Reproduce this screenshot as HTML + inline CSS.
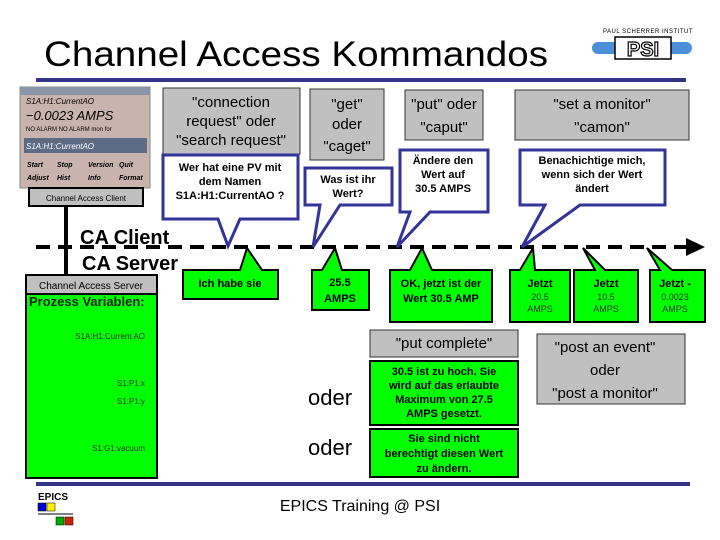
<!DOCTYPE html>
<html><head><meta charset="utf-8"><style>
body{margin:0;background:#fff}
svg{display:block}
text{font-family:"Liberation Sans",sans-serif}
</style></head><body>
<svg width="720" height="540" viewBox="0 0 720 540" xmlns="http://www.w3.org/2000/svg">
<text x="44" y="66" font-size="35" fill="#000" textLength="504" lengthAdjust="spacingAndGlyphs">Channel Access Kommandos</text>
<text x="648" y="33" font-size="6" text-anchor="middle" letter-spacing="0.5">PAUL SCHERRER INSTITUT</text>
<rect x="592" y="42" width="100" height="12" rx="6" fill="#4a8fd8"/>
<rect x="615" y="37" width="56" height="22" fill="#fff" stroke="#000" stroke-width="1.5"/>
<text x="643" y="56" font-size="20" font-weight="bold" text-anchor="middle" fill="#fff" stroke="#000" stroke-width="1.2">PSI</text>
<rect x="36" y="78" width="650" height="4" fill="#333388"/>

<!-- client window -->
<rect x="20" y="87" width="130" height="101" fill="#c8b4ac" stroke="#888"/>
<rect x="20" y="87" width="130" height="8" fill="#8a96a8"/>
<text x="26" y="104" font-size="8" font-style="italic" font-family="Liberation Serif">S1A:H1:CurrentAO</text>
<text x="26" y="120" font-size="13" font-style="italic">−0.0023 AMPS</text>
<text x="26" y="131" font-size="6">NO ALARM  NO ALARM  mon  for</text>
<rect x="24" y="138" width="123" height="15" fill="#5c6c84"/>
<text x="26" y="149" font-size="8" font-style="italic" fill="#fff" font-family="Liberation Serif">S1A:H1:CurrentAO</text>
<g font-size="7" font-style="italic" font-family="Liberation Serif" font-weight="bold">
<text x="27" y="167">Start</text><text x="57" y="167">Stop</text><text x="88" y="167">Version</text><text x="119" y="167">Quit</text>
<text x="27" y="180">Adjust</text><text x="57" y="180">Hist</text><text x="88" y="180">Info</text><text x="119" y="180">Format</text>
</g>
<rect x="29" y="188" width="114" height="18" fill="#c0c0c0" stroke="#000" stroke-width="2"/>
<text x="86" y="201" font-size="8" text-anchor="middle">Channel Access Client</text>
<rect x="64" y="206" width="4" height="70" fill="#000"/>

<!-- dashed line -->
<line x1="36" y1="247" x2="688" y2="247" stroke="#000" stroke-width="4" stroke-dasharray="14,8"/>
<polygon points="686,238 705,247 686,256" fill="#000"/>
<text x="80" y="244" font-size="20" font-weight="bold">CA Client</text>
<text x="82" y="270" font-size="20" font-weight="bold">CA Server</text>

<!-- gray boxes -->
<g fill="#c0c0c0" stroke="#333" stroke-width="1">
<rect x="163" y="88" width="137" height="66"/>
<rect x="310" y="89" width="74" height="71"/>
<rect x="405" y="90" width="78" height="50"/>
<rect x="515" y="90" width="174" height="50"/>
<rect x="370" y="330" width="148" height="27"/>
<rect x="537" y="334" width="148" height="70"/>
</g>
<g font-size="15" text-anchor="middle" fill="#000">
<text x="231" y="107">"connection</text><text x="231" y="126">request" oder</text><text x="231" y="145">"search request"</text>
<text x="347" y="109">"get"</text><text x="347" y="129">oder</text><text x="347" y="151">"caget"</text>
<text x="444" y="109">"put" oder</text><text x="444" y="132">"caput"</text>
<text x="602" y="109">"set a monitor"</text><text x="602" y="132">"camon"</text>
<text x="444" y="348">"put complete"</text>
<text x="605" y="352">"post an event"</text><text x="605" y="375">oder</text><text x="605" y="398">"post a monitor"</text>
</g>

<!-- callouts -->
<g fill="#fff" stroke="#333399" stroke-width="3" stroke-linejoin="miter">
<polygon points="163,155 298,155 298,219 240,219 228,246 218,219 163,219"/>
<polygon points="305,168 392,168 392,205 340,205 313,247 320,205 305,205"/>
<polygon points="400,150 488,150 488,212 430,212 397,247 410,212 400,212"/>
<polygon points="520,150 665,150 665,205 580,205 522,247 545,205 520,205"/>
</g>
<g font-size="11" font-weight="bold" text-anchor="middle">
<text x="230" y="171">Wer hat eine PV mit</text><text x="230" y="185">dem Namen</text><text x="230" y="199">S1A:H1:CurrentAO ?</text>
<text x="348" y="183">Was ist ihr</text><text x="348" y="197">Wert?</text>
<text x="443" y="164">Ändere den</text><text x="443" y="178">Wert auf</text><text x="443" y="192">30.5 AMPS</text>
<text x="592" y="164">Benachichtige mich,</text><text x="592" y="178">wenn sich der Wert</text><text x="592" y="192">ändert</text>
</g>

<!-- green responses -->
<g fill="#00ff00" stroke="#000" stroke-width="2">
<polygon points="183,270 240,270 247,248 262,270 278,270 278,299 183,299"/>
<polygon points="312,270 322,270 335,248 342,270 369,270 369,310 312,310"/>
<polygon points="390,270 410,270 422,248 432,270 492,270 492,322 390,322"/>
<polygon points="510,270 520,270 533,248 535,270 570,270 570,322 510,322"/>
<polygon points="574,270 595,270 583,248 605,270 638,270 638,322 574,322"/>
<polygon points="650,270 660,270 647,248 672,270 705,270 705,322 650,322"/>
<rect x="370" y="361" width="148" height="64"/>
<rect x="370" y="429" width="148" height="48"/>
<rect x="26" y="294" width="131" height="184"/>
</g>
<rect x="26" y="275" width="131" height="19" fill="#c0c0c0" stroke="#000" stroke-width="2"/>
<text x="91" y="289" font-size="10" text-anchor="middle">Channel Access Server</text>
<text x="29" y="306" font-size="13" font-weight="bold" fill="#222">Prozess Variablen:</text>
<g font-size="8" text-anchor="end" fill="#333">
<text x="145" y="339">S1A:H1:Current AO</text>
<text x="145" y="386">S1:P1:x</text>
<text x="145" y="404">S1:P1:y</text>
<text x="145" y="451">S1:G1:vacuum</text>
</g>
<g font-size="11" font-weight="bold" text-anchor="middle">
<text x="230" y="287">Ich habe sie</text>
<text x="340" y="286">25.5</text><text x="340" y="302">AMPS</text>
<text x="441" y="287">OK, jetzt ist der</text><text x="441" y="302">Wert 30.5 AMP</text>
<text x="540" y="287">Jetzt</text><text x="606" y="287">Jetzt</text><text x="675" y="287">Jetzt -</text>
<text x="444" y="375">30.5 ist zu hoch. Sie</text><text x="444" y="389">wird auf das erlaubte</text><text x="444" y="403">Maximum von 27.5</text><text x="444" y="417">AMPS gesetzt.</text>
<text x="444" y="442">Sie sind nicht</text><text x="444" y="457">berechtigt diesen Wert</text><text x="444" y="472">zu ändern.</text>
</g>
<g font-size="9" text-anchor="middle" fill="#333">
<text x="540" y="300">20.5</text><text x="540" y="312">AMPS</text>
<text x="606" y="300">10.5</text><text x="606" y="312">AMPS</text>
<text x="675" y="300">0.0023</text><text x="675" y="312">AMPS</text>
</g>
<text x="308" y="405" font-size="22">oder</text>
<text x="308" y="455" font-size="22">oder</text>

<!-- footer -->
<rect x="36" y="482" width="654" height="4" fill="#333388"/>
<text x="38" y="500" font-size="10" font-weight="bold">EPICS</text>
<rect x="38" y="503" width="8" height="8" fill="#0000cc" stroke="#000" stroke-width="0.5"/>
<rect x="47" y="503" width="8" height="8" fill="#ffee00" stroke="#000" stroke-width="0.5"/>
<line x1="38" y1="514" x2="73" y2="514" stroke="#000"/>
<rect x="56" y="517" width="8" height="8" fill="#00aa00" stroke="#000" stroke-width="0.5"/>
<rect x="65" y="517" width="8" height="8" fill="#cc2200" stroke="#000" stroke-width="0.5"/>
<text x="360" y="511" font-size="16" text-anchor="middle">EPICS Training @ PSI</text>
</svg>
</body></html>
